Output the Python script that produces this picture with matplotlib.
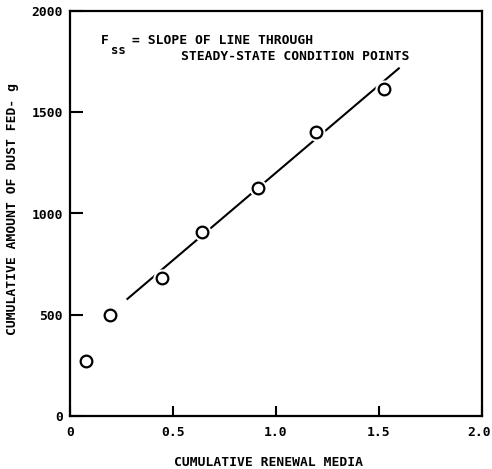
import matplotlib
matplotlib.use("Agg")
import matplotlib.pyplot as plt
from matplotlib.transforms import ScaledTranslation

# Data
renewal_media = [0.08, 0.195, 0.447, 0.64, 0.915, 1.195, 1.525]
dust_fed = [270, 500, 680, 910, 1125, 1400, 1615]
fit_x = [0.275, 1.60]
fit_y = [575, 1720]
x_ticks = [0, 0.5, 1.0, 1.5, 2.0]
x_tick_labels = ["0", "0.5", "1.0", "1.5", "2.0"]
y_ticks = [0, 500, 1000, 1500, 2000]
y_tick_labels = ["0", "500", "1000", "1500", "2000"]

W, H = 492, 469
fig = plt.figure(figsize=(W / 100, H / 100), dpi=100)
L, R, T, B = 70, 482, 11, 416
ax = fig.add_axes([L / W, 1 - B / H, (R - L) / W, (B - T) / H])

font = dict(family="DejaVu Sans Mono", weight="bold", size=9.4)

ax.plot(fit_x, fit_y, color="black", lw=1.5, solid_capstyle="butt", zorder=2)
# white halo so the line stops short of each circle
ax.plot(renewal_media, dust_fed, ls="none", marker="o", ms=13, mfc="white",
        mec="white", mew=0, zorder=3)
ax.plot(renewal_media, dust_fed, ls="none", marker="o", ms=8.4, mfc="white",
        mec="black", mew=1.6, zorder=4)

ax.set_xlim(0, 2.0)
ax.set_ylim(0, 2000)
ax.set_xticks(x_ticks)
ax.set_xticklabels(x_tick_labels, **font)
ax.set_yticks(y_ticks)
ax.set_yticklabels(y_tick_labels, **font)
ax.tick_params(axis="x", direction="in", length=7, width=1.5, pad=7)
ax.tick_params(axis="y", direction="in", length=9, width=1.5, pad=5)
for s in ax.spines.values():
    s.set_linewidth(1.6)

# keep the last x label inside the figure edge
last = ax.get_xticklabels()[-1]
last.set_ha("right")
last.set_transform(last.get_transform() + ScaledTranslation(9 / 100, 0, fig.dpi_scale_trans))

def fx(px):
    return px / W

def fy(py):
    return 1 - py / H

fig.text(fx(101), fy(40), "F", ha="left", va="center", **font)
fig.text(fx(111), fy(50), "ss", ha="left", va="center",
         family="DejaVu Sans Mono", weight="bold", size=8.8)
fig.text(fx(132), fy(40), "= SLOPE OF LINE THROUGH", ha="left", va="center", **font)
fig.text(fx(181), fy(56), "STEADY-STATE CONDITION POINTS", ha="left", va="center", **font)

fig.text(fx(269), fy(462), "CUMULATIVE RENEWAL MEDIA", ha="center", va="center", **font)
fig.text(fx(13), fy(209), "CUMULATIVE AMOUNT OF DUST FED- g", ha="center",
         va="center", rotation=90, **font)

fig.savefig("out.png", dpi=100)
